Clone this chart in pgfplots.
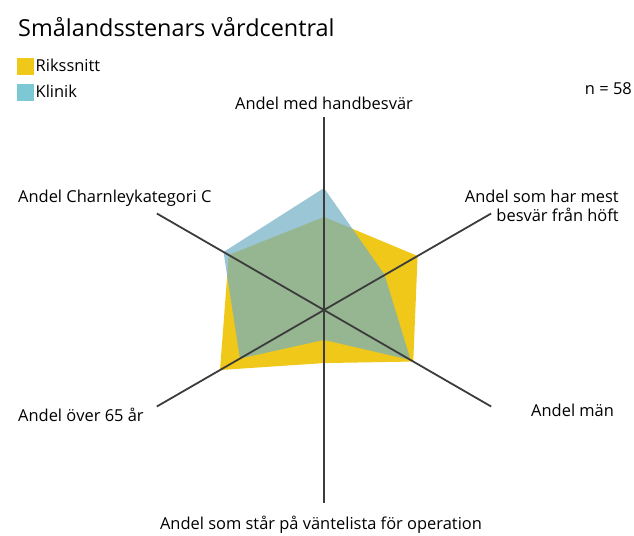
\documentclass[border=0pt]{standalone}
\usepackage{fontspec}
\setmainfont{Open Sans}
\usepackage{pgfplots}
\pgfplotsset{compat=1.18}
\usepgfplotslibrary{polar}

\definecolor{rikscol}{RGB}{240,200,26}
\definecolor{klincol}{RGB}{112,174,196}
\definecolor{klinswatch}{RGB}{124,200,212}
\definecolor{axcol}{RGB}{60,60,60}

\begin{document}
\begin{tikzpicture}
\path[use as bounding box] (0,0) rectangle (634bp,-536bp);

\begin{polaraxis}[
    at={(324bp,-310bp)}, anchor=origin,
    width=386bp, height=386bp, scale only axis,
    hide axis, ymin=0, ymax=100, clip=false,
    legend style={at={(axis description cs:-0.295,1.155)}, anchor=north west,
        draw=none, fill=none, font=\fontsize{16.5}{19}\selectfont,
        inner sep=0pt, row sep=8bp,
        /tikz/every even column/.append style={column sep=8bp}},
    legend cell align=left,
]
% Rikssnitt
\addplot[fill=rikscol, draw=none, forget plot] coordinates {
    (90,48.2) (30,56.0) (330,53.4) (270,27.5) (210,62.2) (150,57.0)
} -- cycle;
% Klinik
\addplot[fill=klincol, fill opacity=0.7, draw=none, forget plot] coordinates {
    (90,63.2) (30,36.3) (330,51.8) (270,15.5) (210,50.3) (150,60.1)
} -- cycle;
% axes
\addplot[axcol, line width=1.8bp, forget plot] coordinates {(90,100) (270,100)};
\addplot[axcol, line width=1.8bp, forget plot] coordinates {(30,100) (210,100)};
\addplot[axcol, line width=1.8bp, forget plot] coordinates {(150,100) (330,100)};

\addlegendimage{legend image code/.code={\fill[rikscol] (0bp,-8bp) rectangle (16bp,8bp);}}
\addlegendentry{Rikssnitt}
\addlegendimage{legend image code/.code={\fill[klinswatch] (0bp,-8bp) rectangle (16bp,8bp);}}
\addlegendentry{Klinik}
\end{polaraxis}

\begin{scope}[every node/.style={font=\fontsize{16.5}{19}\selectfont, inner sep=0pt}]
\node[anchor=base west, font=\fontsize{23.5}{27}\selectfont] at (18bp,-36bp) {Smålandsstenars vårdcentral};
\node[anchor=base east] at (632bp,-94bp) {n = 58};
\node[anchor=base] at (324bp,-109bp) {Andel med handbesvär};
\node[anchor=base east] at (619bp,-202bp) {Andel som har mest};
\node[anchor=base east] at (619bp,-221bp) {besvär från höft};
\node[anchor=base west] at (18bp,-202bp) {Andel Charnleykategori C};
\node[anchor=base west] at (18bp,-421bp) {Andel över 65 år};
\node[anchor=base west] at (531bp,-416bp) {Andel män};
\node[anchor=base] at (321bp,-529bp) {Andel som står på väntelista för operation};
\end{scope}
\end{tikzpicture}
\end{document}
